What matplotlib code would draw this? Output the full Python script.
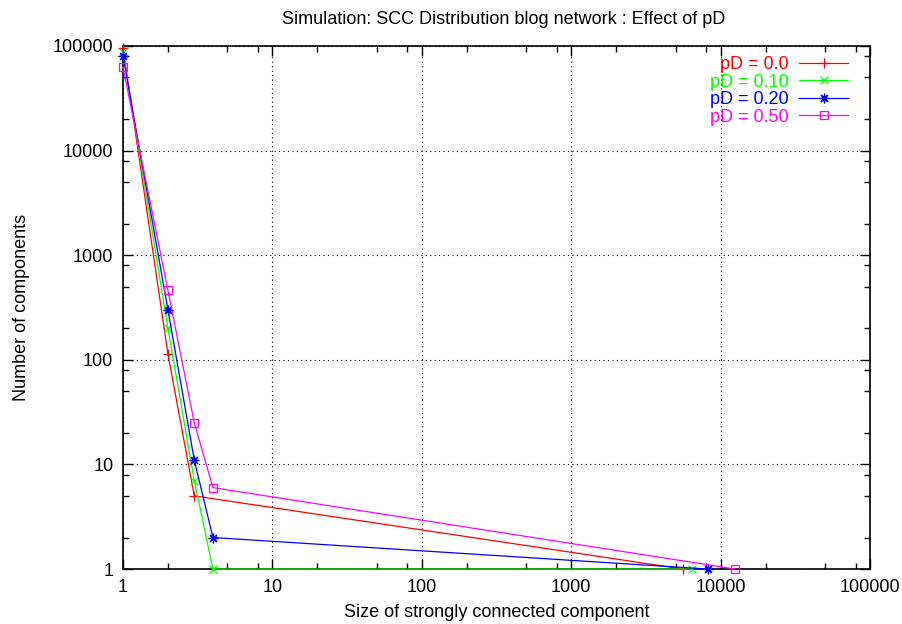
import matplotlib
matplotlib.use("Agg")
import matplotlib.pyplot as plt
from matplotlib.ticker import LogLocator, FixedLocator, NullFormatter

plt.rcParams['font.family'] = ['Liberation Sans', 'DejaVu Sans']

# SCC sizes and counts per pD setting
size_00 = [1, 2, 3, 5600]
count_00 = [96000, 113, 5, 1]

size_10 = [1, 2, 3, 4, 6400]
count_10 = [88000, 200, 7, 1, 1]

size_20 = [1, 2, 3, 4, 8200]
count_20 = [81000, 300, 11, 2, 1]

size_50 = [1, 2, 3, 4, 12500]
count_50 = [63000, 460, 25, 6, 1]

labels = ["pD = 0.0", "pD = 0.10", "pD = 0.20", "pD = 0.50"]
colors = ["#ff0000", "#00ff00", "#0000ff", "#ff00ff"]

fig = plt.figure(figsize=(9.03, 6.24), dpi=100)
ax = fig.add_axes([0.1362, 0.0881, 0.8273, 0.8382])

# markers sit on the frame at y=1 and x=1, so don't clip them
ax.plot(size_00, count_00, color=colors[0], lw=0.9, marker='+', ms=6.5, mew=0.9,
        label=labels[0], clip_on=False, zorder=3)
ax.plot(size_10, count_10, color=colors[1], lw=0.9, marker='x', ms=5.5, mew=0.9,
        label=labels[1], clip_on=False, zorder=3)
ax.plot(size_20, count_20, color=colors[2], lw=0.9, marker=(8, 2, 0), ms=7, mew=0.9,
        label=labels[2], clip_on=False, zorder=3)
ax.plot(size_50, count_50, color=colors[3], lw=0.9, marker='s', ms=6, mew=0.9,
        mfc='none', label=labels[3], clip_on=False, zorder=3)

ax.set_xscale('log')
ax.set_yscale('log')
ax.set_xlim(1, 100000)
ax.set_ylim(1, 100000)

majors = [1, 10, 100, 1000, 10000, 100000]
ax.xaxis.set_major_locator(FixedLocator(majors))
ax.yaxis.set_major_locator(FixedLocator(majors))
ax.set_xticklabels([str(m) for m in majors])
ax.set_yticklabels([str(m) for m in majors])
ax.xaxis.set_minor_locator(LogLocator(base=10, subs=[2, 5, 8]))
ax.yaxis.set_minor_locator(LogLocator(base=10, subs=[2, 5, 8]))
ax.xaxis.set_minor_formatter(NullFormatter())
ax.yaxis.set_minor_formatter(NullFormatter())

ax.tick_params(which='both', direction='in', top=True, right=True, labelsize=13, width=1)
ax.tick_params(which='major', length=7, pad=7)
ax.tick_params(which='minor', length=4)
for sp in ax.spines.values():
    sp.set_linewidth(1.2)

ax.grid(True, which='major', color='black', linestyle=(0, (1, 3)), linewidth=0.8)

ax.set_title("Simulation: SCC Distribution blog network : Effect of pD", fontsize=13,
             pad=16, x=0.51)
ax.set_xlabel("Size of strongly connected component", fontsize=13, labelpad=6)
ax.set_ylabel("Number of components", fontsize=13, labelpad=16)

leg = ax.legend(loc='upper right', bbox_to_anchor=(0.9705, 0.980), frameon=False,
                markerfirst=False, fontsize=13, labelcolor='linecolor',
                handlelength=2.7, handletextpad=0.6, labelspacing=0.02,
                borderaxespad=0, borderpad=0)

fig.savefig("out.png", dpi=100)
